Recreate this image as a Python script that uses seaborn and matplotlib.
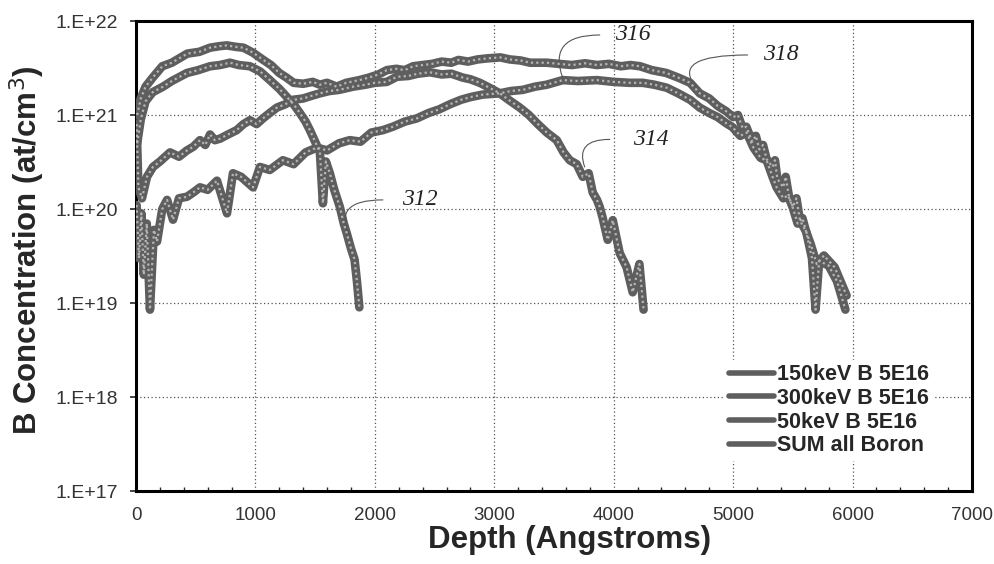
import numpy as np
import pandas as pd
import matplotlib
matplotlib.use("Agg")
import matplotlib.pyplot as plt
import matplotlib.ticker as mticker
import seaborn as sns

# depth (Angstrom) / concentration (at/cm3)
depth_50 = [10, 40, 80, 140, 226, 300, 427, 520, 620, 703, 787, 860, 954, 1040, 1121, 1200,
            1264, 1320, 1372, 1420, 1456, 1500, 1540, 1565, 1590, 1623, 1660, 1707, 1740, 1765,
            1800, 1830, 1850, 1870]
conc_50 = [5e20, 9e20, 1.4e21, 1.75e21, 2.0e21, 2.3e21, 2.8e21, 3.0e21, 3.3e21, 3.4e21, 3.6e21,
           3.4e21, 3.3e21, 2.9e21, 2.35e21, 1.9e21, 1.55e21, 1.3e21, 1.05e21, 8.5e20, 6.9e20,
           5.2e20, 4.0e20, 1.15e20, 3.2e20, 2.4e20, 1.6e20, 1.05e20, 7e19, 5.5e19, 3.8e19,
           2.9e19, 1.7e19, 9e18]

depth_150 = [5, 20, 50, 92, 142, 200, 285, 360, 427, 480, 536, 580, 620, 660, 703, 770, 843, 900,
             954, 1010, 1063, 1120, 1180, 1250, 1314, 1400, 1470, 1540, 1620, 1700, 1816, 1920,
             2000, 2100, 2184, 2280, 2360, 2460, 2560, 2640, 2736, 2800, 2879, 2960, 3046, 3120,
             3213, 3290, 3356, 3440, 3523, 3580, 3632, 3690, 3741, 3790, 3824, 3860, 3883, 3908,
             3950, 3992, 4050, 4108, 4159, 4215, 4250]
conc_150 = [8e20, 1.7e20, 1.3e20, 2.2e20, 2.8e20, 3.2e20, 4.0e20, 3.6e20, 4.2e20, 4.6e20, 5.4e20,
            4.8e20, 6.2e20, 5.4e20, 5.6e20, 6.2e20, 6.9e20, 8.0e20, 8.8e20, 8.0e20, 9.2e20,
            1.05e21, 1.2e21, 1.3e21, 1.45e21, 1.5e21, 1.6e21, 1.7e21, 1.8e21, 1.85e21, 2.0e21,
            2.1e21, 2.2e21, 2.25e21, 2.55e21, 2.6e21, 2.75e21, 2.85e21, 2.7e21, 2.75e21, 2.5e21,
            2.4e21, 2.2e21, 1.95e21, 1.7e21, 1.45e21, 1.2e21, 1.0e21, 8.2e20, 6.5e20, 5.4e20,
            4.0e20, 3.3e20, 3.0e20, 2.2e20, 2.4e20, 1.5e20, 1.25e20, 1.05e20, 8e19, 4.7e19,
            7.6e19, 3.4e19, 2.4e19, 1.3e19, 2.6e19, 8.5e18]

depth_300 = [5, 25, 45, 65, 90, 117, 150, 176, 220, 260, 310, 360, 427, 480, 536, 600, 678, 762,
             812, 880, 980, 1038, 1120, 1230, 1320, 1420, 1515, 1600, 1700, 1790, 1880, 1970,
             2067, 2150, 2250, 2351, 2450, 2540, 2628, 2720, 2800, 2904, 3046, 3140, 3238, 3340,
             3439, 3573, 3700, 3858, 4000, 4134, 4243, 4340, 4444, 4540, 4640, 4720, 4800, 4870,
             4940, 4996, 5060, 5113, 5170, 5230, 5280, 5330, 5364, 5420, 5460, 5498, 5540, 5580,
             5615, 5660, 5690, 5720, 5800, 5870, 5940]
conc_300 = [1.1e20, 3e19, 9e19, 2e19, 7e19, 8.5e18, 6e19, 4.5e19, 1.0e20, 1.25e20, 7.7e19,
            1.3e20, 1.35e20, 1.5e20, 1.7e20, 1.6e20, 2.0e20, 9e19, 2.4e20, 2.2e20, 1.7e20,
            2.8e20, 2.6e20, 3.3e20, 3.0e20, 4.0e20, 4.5e20, 4.2e20, 5.0e20, 5.4e20, 5.2e20,
            6.5e20, 6.9e20, 7.5e20, 8.5e20, 9.2e20, 1.05e21, 1.15e21, 1.3e21, 1.45e21, 1.55e21,
            1.65e21, 1.7e21, 1.8e21, 1.85e21, 2.0e21, 2.1e21, 2.35e21, 2.3e21, 2.35e21, 2.25e21,
            2.2e21, 2.2e21, 2.1e21, 1.95e21, 1.7e21, 1.45e21, 1.2e21, 1.05e21, 9.5e20, 8.2e20,
            7.4e20, 6.0e20, 6.5e20, 4.5e20, 3.5e20, 3.3e20, 2.2e20, 1.7e20, 1.3e20, 1.4e20,
            1.05e20, 7e19, 8e19, 5.5e19, 3e19, 8.5e18, 2.8e19, 2.5e19, 1.7e19, 8.5e18]

depth_sum = [10, 40, 80, 140, 220, 300, 430, 530, 620, 700, 760, 840, 900, 980, 1060, 1130, 1200,
             1260, 1320, 1400, 1480, 1540, 1600, 1680, 1760, 1870, 1950, 2030, 2100, 2180, 2250,
             2320, 2400, 2480, 2560, 2640, 2700, 2780, 2860, 2940, 3050, 3130, 3220, 3300, 3440,
             3540, 3650, 3760, 3860, 3960, 4060, 4140, 4220, 4320, 4440, 4540, 4640, 4720, 4800,
             4870, 4940, 5000, 5040, 5080, 5110, 5160, 5190, 5220, 5250, 5280, 5330, 5350, 5370,
             5420, 5440, 5470, 5500, 5530, 5560, 5610, 5650, 5700, 5760, 5850, 5950]
conc_sum = [1.0e21, 1.5e21, 2.0e21, 2.5e21, 3.3e21, 3.6e21, 4.5e21, 4.7e21, 5.2e21, 5.4e21,
            5.5e21, 5.3e21, 5.2e21, 4.6e21, 3.9e21, 3.4e21, 2.8e21, 2.5e21, 2.2e21, 2.15e21,
            2.25e21, 2.1e21, 2.2e21, 2.0e21, 2.2e21, 2.35e21, 2.5e21, 2.7e21, 3.0e21, 3.1e21,
            3.0e21, 3.3e21, 3.4e21, 3.5e21, 3.7e21, 3.6e21, 3.85e21, 3.7e21, 3.9e21, 4.0e21,
            4.1e21, 3.9e21, 3.8e21, 3.6e21, 3.6e21, 3.5e21, 3.4e21, 3.55e21, 3.4e21, 3.5e21,
            3.3e21, 3.4e21, 3.3e21, 3.0e21, 2.8e21, 2.5e21, 2.2e21, 1.7e21, 1.5e21, 1.25e21,
            1.1e21, 9.5e20, 1.0e21, 7.2e20, 7.5e20, 5.2e20, 6.0e20, 4.3e20, 4.8e20, 3.4e20,
            2.8e20, 3.3e20, 2.1e20, 1.7e20, 2.2e20, 1.3e20, 1.05e20, 1.3e20, 7.5e19, 5.8e19,
            4.2e19, 2.6e19, 3.2e19, 2.4e19, 1.2e19]

labels = ["150keV B 5E16", "300keV B 5E16", "50keV B 5E16", "SUM all Boron"]

series = [(labels[0], depth_150, conc_150),
          (labels[1], depth_300, conc_300),
          (labels[2], depth_50, conc_50),
          (labels[3], depth_sum, conc_sum)]
df = pd.concat([pd.DataFrame({"depth": d, "conc": c, "implant": name})
                for name, d, c in series], ignore_index=True)

sns.set_theme(style="white")
plt.rcParams["font.family"] = ["Liberation Sans", "DejaVu Sans"]

fig = plt.figure(figsize=(9.95, 5.64), dpi=100)
ax = fig.add_axes([136 / 995, 1 - 491 / 564, 836 / 995, 470 / 564])

line_col = "#5e5e5e"
for name, d, c in series:
    part = df[df["implant"] == name]
    sns.lineplot(data=part, x="depth", y="conc", ax=ax, color=line_col, lw=6.2,
                 sort=False, estimator=None, label=name, zorder=3)
    # light dotted overlay to mimic the halftone texture of the print
    ax.plot(part["depth"], part["conc"], color="#b5b5b5", lw=1.6,
            linestyle=(0, (1, 1.4)), zorder=4)

ax.set_yscale("log")
ax.set_xlim(0, 7000)
ax.set_ylim(1e17, 1e22)
ax.xaxis.set_major_locator(mticker.MultipleLocator(1000))
ax.xaxis.set_minor_locator(mticker.MultipleLocator(200))
ax.yaxis.set_major_locator(mticker.LogLocator(base=10, numticks=10))
ax.yaxis.set_minor_locator(mticker.NullLocator())
ax.yaxis.set_major_formatter(mticker.FuncFormatter(
    lambda v, p: f"1.E+{int(round(np.log10(v)))}"))

ax.grid(True, which="major", color="#555555", lw=0.9, linestyle=(0, (1, 2)))
for s in ax.spines.values():
    s.set_color("black")
    s.set_linewidth(2.2)

ax.tick_params(axis="x", which="major", direction="inout", length=7, width=1.2,
               labelsize=13.5, labelcolor="#333333", pad=8)
ax.tick_params(axis="x", which="minor", direction="in", length=3, width=1.0, bottom=True)
ax.tick_params(axis="y", which="major", direction="out", length=4, width=1.2, left=True,
               labelsize=14, labelcolor="#333333", pad=9)

ax.set_xlabel("Depth (Angstroms)", fontsize=22.5, fontweight="bold")
ax.set_ylabel("B Concentration (at/cm$^3$)", fontsize=22.5, fontweight="bold")
ax.xaxis.set_label_coords(0.518, -0.072)
ax.yaxis.set_label_coords(-0.106, 0.513)

handles, labs = ax.get_legend_handles_labels()
leg = ax.legend(handles[:4], labs[:4], loc="lower right", bbox_to_anchor=(0.966, 0.042),
                frameon=True, fancybox=False, edgecolor="white", framealpha=1,
                prop={"size": 15.5, "weight": "bold"}, handlelength=2.1, handletextpad=0.1,
                labelspacing=0.12, borderpad=0.2)
for h in leg.get_lines():
    h.set_linewidth(4)

# reference numerals with thin leader lines
notes = [("312", (1808, 4.7e19), (2067, 1.25e20), 2226, -60),
         ("314", (3757, 2.8e20), (3967, 5.5e20), 4159, -70),
         ("316", (3573, 2.48e21), (3883, 7.1e21), 4008, -70),
         ("318", (4695, 1.94e21), (5121, 4.35e21), 5247, -50)]
for txt, end, start, tx, ang in notes:
    ax.annotate("", xy=end, xytext=start,
                arrowprops=dict(arrowstyle="-", lw=0.8, color="#555555",
                                shrinkA=0, shrinkB=0,
                                connectionstyle=f"angle3,angleA=0,angleB={ang}"))
    ax.text(tx, start[1], txt, fontsize=17, style="italic", family="Liberation Serif",
            ha="left", va="center", color="#222222")

fig.savefig("out.png", dpi=100)
